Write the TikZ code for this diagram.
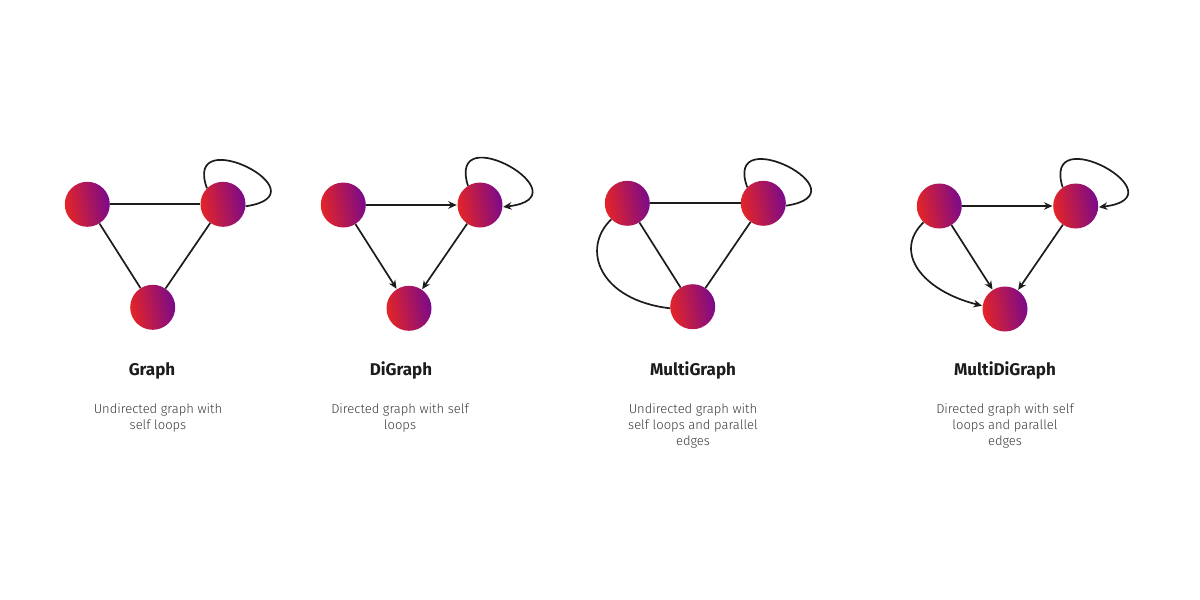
\documentclass[tikz,border=0pt]{standalone}
\usepackage{fontspec}
\setmainfont{Fira Sans}
\newfontfamily\descfont{Fira Sans Light}
\usetikzlibrary{arrows.meta}
\definecolor{nred}{HTML}{E42527}
\definecolor{npurple}{HTML}{7A0A8A}
\definecolor{edgec}{HTML}{1C1C1C}
\definecolor{descc}{HTML}{3A3A3A}
\tikzset{
  vtx/.style={circle, minimum size=45pt, inner sep=0pt, left color=nred, right color=npurple, shading angle=100, draw=none},
  edg/.style={draw=edgec, line width=1.7pt},
  arr/.style={edg, -{Stealth[length=8.5pt,width=7.5pt]}, shorten >=0.5pt},
  ttl/.style={font=\fontsize{17}{20}\selectfont\bfseries, text=edgec, anchor=base},
  dsc/.style={font=\descfont\fontsize{13}{16}\selectfont, text=descc, align=center, anchor=north}
}
\begin{document}
\begin{tikzpicture}[x=1pt,y=-1pt]
\useasboundingbox (0,0) rectangle (1200,600);
% Graph
\node[vtx] (g1a) at (87.3,204.3) {};
\node[vtx] (g1b) at (223,204.3) {};
\node[vtx] (g1c) at (152.7,307.3) {};
\draw[edg] (g1a) -- (g1b);
\draw[edg] (g1a) -- (g1c);
\draw[edg] (g1b) -- (g1c);
\draw[edg] (g1b.135) .. controls +(-25,-68) and +(82,-12) .. (g1b.-5);
\node[ttl] (t1) at (152,375.7) {Graph};
\node[dsc] (d1) at (158,400) {Undirected graph with\\self loops};
% DiGraph
\node[vtx] (g2a) at (343.3,205) {};
\node[vtx] (g2b) at (480,205) {};
\node[vtx] (g2c) at (409,308.3) {};
\draw[arr] (g2a) -- (g2b);
\draw[arr] (g2a) -- (g2c);
\draw[arr] (g2b) -- (g2c);
\draw[arr] (g2b.122) .. controls +(-22,-70) and +(85,-10) .. (g2b.-5);
\node[ttl] (t2) at (401,375.7) {DiGraph};
\node[dsc] (d2) at (400,400) {Directed graph with self\\loops};
% MultiGraph
\node[vtx] (g3a) at (627.3,203.3) {};
\node[vtx] (g3b) at (763.3,203.3) {};
\node[vtx] (g3c) at (692.7,306.7) {};
\draw[edg] (g3a) -- (g3b);
\draw[edg] (g3a) -- (g3c);
\draw[edg] (g3b) -- (g3c);
\draw[edg] (g3a.225) .. controls +(-31,30) and +(-70,-8) .. (g3c.184);
\draw[edg] (g3b.135) .. controls +(-25,-68) and +(82,-12) .. (g3b.-6);
\node[ttl] (t3) at (693,375.7) {MultiGraph};
\node[dsc] (d3) at (693,400) {Undirected graph with\\self loops and parallel\\edges};
% MultiDiGraph
\node[vtx] (g4a) at (939.3,206) {};
\node[vtx] (g4b) at (1075.7,206) {};
\node[vtx] (g4c) at (1005,309) {};
\draw[arr] (g4a) -- (g4b);
\draw[arr] (g4a) -- (g4c);
\draw[arr] (g4b) -- (g4c);
\draw[arr] (g4a.226) .. controls +(-31,30) and +(-60,-15) .. (g4c.172);
\draw[arr] (g4b.125) .. controls +(-22,-70) and +(85,-10) .. (g4b.-3);
\node[ttl] (t4) at (1005,375.7) {MultiDiGraph};
\node[dsc] (d4) at (1005,400) {Directed graph with self\\loops and parallel\\edges};
\end{tikzpicture}
\end{document}
